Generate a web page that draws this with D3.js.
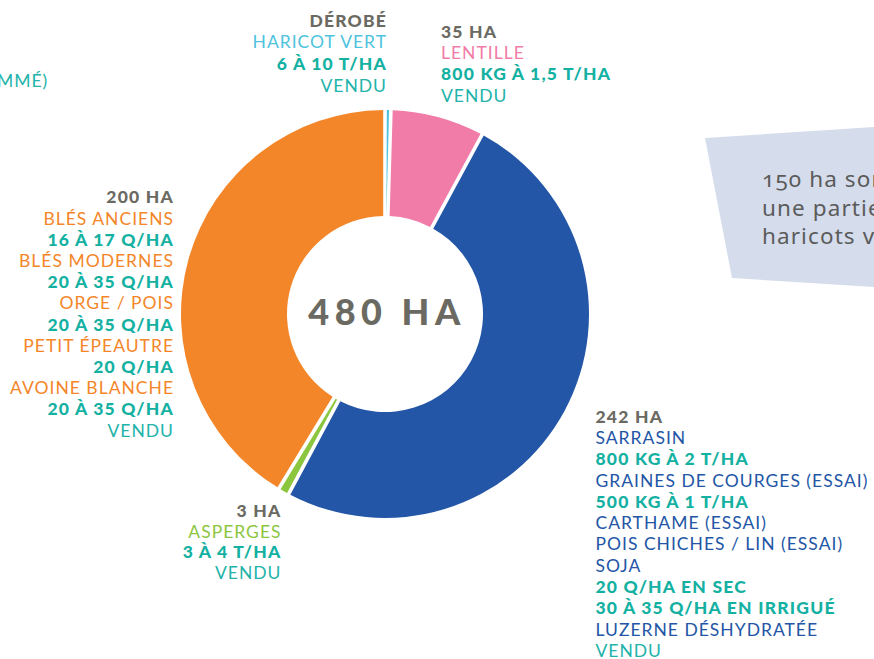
<!DOCTYPE html>
<html>
<head>
<meta charset="utf-8">
<script src="https://cdn.jsdelivr.net/npm/d3@7"></script>
<style>
  html, body { margin: 0; padding: 0; background: #fff; overflow: hidden; }
  svg { display: block; }
</style>
</head>
<body>
<div id="chart"></div>
<script>
// surfaces par culture (ha) - le haricot vert en dérobé n'est qu'un filet
const cultures = ["haricot", "lentille", "sarrasin", "asperges", "bles"];
const surfaces = [1, 35, 242, 3, 200];
const entetes = ["DÉROBÉ", "35 HA", "242 HA", "3 HA", "200 HA"];
const total = "480 HA";

// lignes de texte de chaque bloc : [texte, type]  (nom / rdt / vendu)
const lignesHaricot = [["HARICOT VERT", "nom"], ["6 À 10 T/HA", "rdt"], ["VENDU", "vendu"]];
const lignesLentille = [["LENTILLE", "nom"], ["800 KG À 1,5 T/HA", "rdt"], ["VENDU", "vendu"]];
const lignesSarrasin = [
  ["SARRASIN", "nom"], ["800 KG À 2 T/HA", "rdt"],
  ["GRAINES DE COURGES (ESSAI)", "nom"], ["500 KG À 1 T/HA", "rdt"],
  ["CARTHAME (ESSAI)", "nom"], ["POIS CHICHES / LIN (ESSAI)", "nom"],
  ["SOJA", "nom"], ["20 Q/HA EN SEC", "rdt"], ["30 À 35 Q/HA EN IRRIGUÉ", "rdt"],
  ["LUZERNE DÉSHYDRATÉE", "nom"], ["VENDU", "vendu"]
];
const lignesAsperges = [["ASPERGES", "nom"], ["3 À 4 T/HA", "rdt"], ["VENDU", "vendu"]];
const lignesBles = [
  ["BLÉS ANCIENS", "nom"], ["16 À 17 Q/HA", "rdt"],
  ["BLÉS MODERNES", "nom"], ["20 À 35 Q/HA", "rdt"],
  ["ORGE / POIS", "nom"], ["20 À 35 Q/HA", "rdt"],
  ["PETIT ÉPEAUTRE", "nom"], ["20 Q/HA", "rdt"],
  ["AVOINE BLANCHE", "nom"], ["20 À 35 Q/HA", "rdt"], ["VENDU", "vendu"]
];
const lignes = [lignesHaricot, lignesLentille, lignesSarrasin, lignesAsperges, lignesBles];

const encadre = ["150 ha sont", "une partie", "haricots verts"];

// ---- mise en page ----
const W = 874, H = 659;
const cx = 385, cy = 314, rOut = 204, rIn = 98;

const couleurs = d3.scaleOrdinal()
  .domain(cultures)
  .range(["#4fc3de", "#f07ca7", "#2356a6", "#8cc63f", "#f4862a"]);

const grey = "#6b6a62", tealBold = "#14b1a2", tealLight = "#22b3aa";

const blocs = [
  {x: 387, y: 26.7, anchor: "end", lh: 21.7},
  {x: 441, y: 37.7, anchor: "start", lh: 21.3},
  {x: 595.5, y: 422.6, anchor: "start", lh: 21.3},
  {x: 281.5, y: 516.6, anchor: "end", lh: 20.9},
  {x: 174, y: 203.3, anchor: "end", lh: 21.2}
];

const svg = d3.select("#chart").append("svg")
  .attr("width", W).attr("height", H);

// encadré bleu à droite
svg.append("polygon")
  .attr("points", [[705, 138], [874, 127], [874, 287], [732, 278]].map(p => p.join(",")).join(" "))
  .attr("fill", "#d5ddec");

svg.append("g").selectAll("text")
  .data(encadre)
  .enter().append("text")
    .attr("x", 762)
    .attr("y", (d, i) => 187 + i * 28.5)
    .attr("font-family", "Noto Sans")
    .attr("font-size", 22.5)
    .attr("letter-spacing", 1.1)
    .style("font-variant-numeric", "oldstyle-nums")
    .attr("fill", "#5b5b5b")
    .text(d => d);

// donut
const pie = d3.pie().sort(null).value(d => d).padAngle(0.016);
const arc = d3.arc().innerRadius(rIn).outerRadius(rOut);

const g = svg.append("g").attr("transform", "translate(" + cx + "," + cy + ")");
g.selectAll("path")
  .data(pie(surfaces))
  .enter().append("path")
    .attr("d", arc)
    .attr("fill", (d, i) => couleurs(cultures[i]));

g.append("text")
  .attr("text-anchor", "middle")
  .attr("x", 2)
  .attr("y", 11)
  .attr("font-family", "Lato")
  .attr("font-weight", 900)
  .attr("font-size", 36)
  .attr("letter-spacing", 5.5)
  .attr("fill", grey)
  .text(total);

// blocs de texte
function styleLigne(sel, type, culture) {
  if (type === "entete") {
    sel.attr("font-weight", 900).attr("fill", grey);
  } else if (type === "rdt") {
    sel.attr("font-weight", 900).attr("fill", tealBold);
  } else if (type === "vendu") {
    sel.attr("font-weight", 400).attr("fill", tealLight);
  } else {
    sel.attr("font-weight", 400).attr("fill", couleurs(culture));
  }
}

cultures.forEach(function (c, i) {
  const b = blocs[i];
  const rows = [[entetes[i], "entete"]].concat(lignes[i]);
  const bg = svg.append("g").attr("class", "bloc-" + c);
  rows.forEach(function (r, k) {
    const t = bg.append("text")
      .attr("x", b.x)
      .attr("y", b.y + k * b.lh)
      .attr("text-anchor", b.anchor)
      .attr("font-family", "Lato")
      .attr("font-size", 17.5)
      .attr("letter-spacing", r[1] === "rdt" || r[1] === "entete" ? 1.2 : 1.0)
      .text(r[0]);
    styleLigne(t, r[1], c);
  });
});

// morceau de texte coupé en haut à gauche
svg.append("text")
  .attr("x", -3).attr("y", 87.3)
  .attr("font-family", "Lato").attr("font-weight", 400)
  .attr("font-size", 17.5).attr("letter-spacing", 1.0)
  .attr("fill", tealLight)
  .text("MMÉ)");
</script>
</body>
</html>
